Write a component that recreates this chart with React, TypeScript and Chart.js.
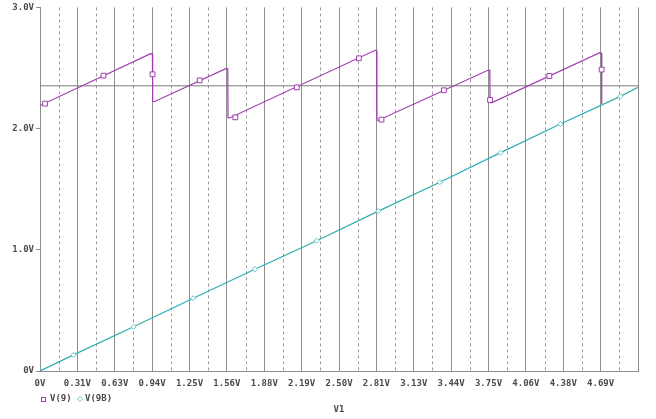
import React, { useEffect, useRef } from "react";
import { Chart, registerables } from "chart.js";

Chart.register(...registerables);

// ---- data ----
const xTickLabels = [
  "0V", "0.31V", "0.63V", "0.94V", "1.25V", "1.56V", "1.88V", "2.19V",
  "2.50V", "2.81V", "3.13V", "3.44V", "3.75V", "4.06V", "4.38V", "4.69V", "",
];
const yTickLabels = ["0V", "1.0V", "2.0V", "3.0V"];

// V(9) trace (sawtooth)
const v9X = [
  0.0, 0.925, 0.94, 0.942, 0.955, 1.558, 1.57, 1.572, 1.585, 2.802, 2.815,
  2.817, 2.83, 3.745, 3.761, 3.763, 3.775, 4.68, 4.695, 4.697,
];
const v9Y = [
  2.19, 2.618, 2.617, 2.225, 2.222, 2.496, 2.494, 2.09, 2.088, 2.646, 2.643,
  2.069, 2.069, 2.481, 2.48, 2.215, 2.213, 2.627, 2.623, 2.202,
];
// V(9) plot markers
const v9MarkX = [0.042, 0.531, 0.941, 1.335, 1.633, 2.147, 2.666, 2.855, 3.377, 3.763, 4.259, 4.696];
const v9MarkY = [2.206, 2.437, 2.448, 2.398, 2.093, 2.34, 2.58, 2.074, 2.316, 2.236, 2.434, 2.487];

// V(9B) trace (ramp)
const v9bX = [0.0, 0.28, 0.782, 1.281, 1.797, 2.314, 2.829, 3.343, 3.851, 4.351, 4.853, 5.0];
const v9bY = [0.0, 0.133, 0.365, 0.6, 0.84, 1.075, 1.319, 1.558, 1.802, 2.038, 2.266, 2.34];
const v9bMarkX = [0.28, 0.782, 1.281, 1.797, 2.314, 2.829, 3.343, 3.851, 4.351, 4.853];
const v9bMarkY = [0.133, 0.365, 0.6, 0.84, 1.075, 1.319, 1.558, 1.802, 2.038, 2.266];

// horizontal reference level
const refX = [0, 5];
const refY = [2.353, 2.353];

const X_MIN = 0;
const X_MAX = 5;
const X_STEP = 0.3125;

const MAGENTA = "#a03cb0";
const CYAN = "#2eaeae";
const CYAN_MARK = "#6cc8c8";
const GRID = "#8e8e8e";
const GRID_MINOR = "#9a9a9a";
const TEXT = "#4a4a4a";
const FONT_FAMILY = "'DejaVu Sans Mono', monospace";

const pts = (xs: number[], ys: number[]) => xs.map((x, i) => ({ x, y: ys[i] }));

const overlayPlugin = {
  id: "pspiceOverlay",
  beforeDatasetsDraw(chart: any) {
    const { ctx, chartArea } = chart;
    const xs = chart.scales.x;
    const ticks = xs.ticks;
    ctx.save();
    ctx.strokeStyle = GRID_MINOR;
    ctx.lineWidth = 1;
    ctx.setLineDash([3, 3]);
    for (let i = 0; i < ticks.length - 1; i++) {
      const mid = (ticks[i].value + ticks[i + 1].value) / 2;
      const px = Math.round(xs.getPixelForValue(mid)) + 0.5;
      ctx.beginPath();
      ctx.moveTo(px, chartArea.top);
      ctx.lineTo(px, chartArea.bottom);
      ctx.stroke();
    }
    ctx.restore();
  },
  afterDraw(chart: any) {
    const { ctx, chartArea } = chart;
    ctx.save();
    ctx.font = "bold 9px " + FONT_FAMILY;
    ctx.textBaseline = "middle";
    ctx.textAlign = "left";
    const y = chartArea.bottom + 28;
    let x = chartArea.left + 3;
    // square marker
    ctx.strokeStyle = MAGENTA;
    ctx.lineWidth = 1;
    ctx.strokeRect(Math.round(x - 2) + 0.5, Math.round(y - 2) + 0.5, 4, 4);
    ctx.fillStyle = TEXT;
    ctx.fillText("V(9)", x + 7, y);
    x += 37;
    // diamond marker
    ctx.strokeStyle = CYAN_MARK;
    ctx.beginPath();
    ctx.moveTo(x, y - 2.5);
    ctx.lineTo(x + 2.5, y);
    ctx.lineTo(x, y + 2.5);
    ctx.lineTo(x - 2.5, y);
    ctx.closePath();
    ctx.stroke();
    ctx.fillText("V(9B)", x + 5, y);
    ctx.restore();
  },
};

export default function App() {
  const canvasRef = useRef<HTMLCanvasElement | null>(null);

  useEffect(() => {
    document.body.style.margin = "0";
    const canvas = canvasRef.current;
    if (!canvas) return;
    const chart = new Chart(canvas, {
      type: "scatter",
      data: {
        datasets: [
          {
            label: "V(9) markers",
            data: pts(v9MarkX, v9MarkY),
            showLine: false,
            pointStyle: "rect",
            pointRadius: 3.4,
            pointBorderWidth: 1,
            pointBorderColor: MAGENTA,
            pointBackgroundColor: "#ffffff",
          },
          {
            label: "V(9B) markers",
            data: pts(v9bMarkX, v9bMarkY),
            showLine: false,
            pointStyle: "rectRot",
            pointRadius: 2.6,
            pointBorderWidth: 1,
            pointBorderColor: CYAN_MARK,
            pointBackgroundColor: "#ffffff",
          },
          {
            label: "V(9)",
            data: pts(v9X, v9Y),
            showLine: true,
            borderColor: MAGENTA,
            borderWidth: 1.2,
            pointRadius: 0,
            tension: 0,
          },
          {
            label: "V(9B)",
            data: pts(v9bX, v9bY),
            showLine: true,
            borderColor: CYAN,
            borderWidth: 1.2,
            pointRadius: 0,
            tension: 0,
          },
          {
            label: "ref",
            data: pts(refX, refY),
            showLine: true,
            borderColor: "#7a7a7a",
            borderWidth: 1,
            pointRadius: 0,
          },
        ],
      },
      options: {
        animation: false,
        responsive: true,
        maintainAspectRatio: false,
        layout: { padding: { left: 0, right: 18, top: 7, bottom: 0 } },
        plugins: {
          legend: { display: false },
          tooltip: { enabled: false },
        },
        scales: {
          x: {
            type: "linear",
            min: X_MIN,
            max: X_MAX,
            afterFit: (s: any) => {
              s.height = 48;
            },
            ticks: {
              stepSize: X_STEP,
              autoSkip: false,
              maxRotation: 0,
              padding: 7,
              color: TEXT,
              font: { family: FONT_FAMILY, size: 9, weight: "bold" },
              callback: (_v: any, i: number) => xTickLabels[i],
            },
            grid: {
              color: GRID,
              lineWidth: 1,
              drawTicks: false,
            },
            border: { display: true, color: GRID },
            title: {
              display: true,
              text: "V1",
              color: TEXT,
              font: { family: FONT_FAMILY, size: 9, weight: "bold" },
              padding: { top: 0, bottom: 4 },
            },
          },
          y: {
            type: "linear",
            min: 0,
            max: 3,
            afterFit: (s: any) => {
              s.width = 40;
            },
            ticks: {
              stepSize: 1,
              padding: 2,
              color: TEXT,
              font: { family: FONT_FAMILY, size: 9, weight: "bold" },
              callback: (_v: any, i: number) => yTickLabels[i],
            },
            grid: {
              drawOnChartArea: false,
              drawTicks: true,
              tickLength: 4,
              color: GRID,
            },
            border: { display: true, color: GRID },
          },
        },
      },
      plugins: [overlayPlugin],
    });
    return () => chart.destroy();
  }, []);

  return (
    <div style={{ width: 656, height: 419, position: "relative", background: "#fff" }}>
      <canvas ref={canvasRef} />
    </div>
  );
}
